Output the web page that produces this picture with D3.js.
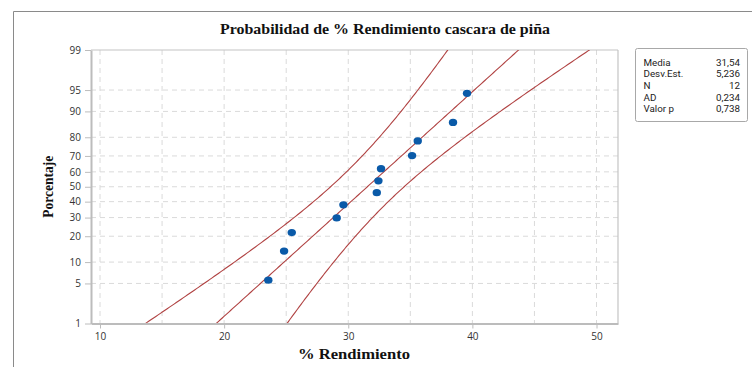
<!DOCTYPE html>
<html>
<head>
<meta charset="utf-8">
<script src="https://cdn.jsdelivr.net/npm/d3@7"></script>
<style>
  html, body { margin: 0; padding: 0; background: #fff; }
  svg { display: block; }
</style>
</head>
<body>
<svg id="chart" width="752" height="367"></svg>
<script>
// ---------- data ----------
const rendimiento = [23.56, 24.83, 25.45, 29.07, 29.61, 32.30, 32.43, 32.64, 35.14, 35.60, 38.44, 39.57];
const porcentaje  = [5.6, 13.7, 21.8, 29.8, 37.9, 46.0, 54.0, 62.1, 70.2, 78.2, 86.3, 94.4];
const yTickValues = [1, 5, 10, 20, 30, 40, 50, 60, 70, 80, 90, 95, 99];
const xTickValues = [10, 20, 30, 40, 50];
const xGridValues = [10, 15, 20, 25, 30, 35, 40, 45, 50];
const statLabels  = ["Media", "Desv.Est.", "N", "AD", "Valor p"];
const statValues  = ["31,54", "5,236", "12", "0,234", "0,738"];
const media = 31.54, desv = 5.236, nObs = 12, zConf = 1.96;
const titleText = "Probabilidad de % Rendimiento cascara de piña";
const xLabelText = "% Rendimiento";
const yLabelText = "Porcentaje";

// inverse normal CDF (Acklam)
function probit(p) {
  const a = [-3.969683028665376e+01, 2.209460984245205e+02, -2.759285104469687e+02, 1.383577518672690e+02, -3.066479806614716e+01, 2.506628277459239e+00];
  const b = [-5.447609879822406e+01, 1.615858368580409e+02, -1.556989798598866e+02, 6.680131188771972e+01, -1.328068155288572e+01];
  const c = [-7.784894002430293e-03, -3.223964580411365e-01, -2.400758277161838e+00, -2.549732539343734e+00, 4.374664141464968e+00, 2.938163982698783e+00];
  const d = [7.784695709041462e-03, 3.224671290700398e-01, 2.445134137142996e+00, 3.754408661907416e+00];
  const pl = 0.02425;
  let q, r;
  if (p < pl) {
    q = Math.sqrt(-2 * Math.log(p));
    return (((((c[0]*q+c[1])*q+c[2])*q+c[3])*q+c[4])*q+c[5]) / ((((d[0]*q+d[1])*q+d[2])*q+d[3])*q+1);
  } else if (p <= 1 - pl) {
    q = p - 0.5; r = q * q;
    return (((((a[0]*r+a[1])*r+a[2])*r+a[3])*r+a[4])*r+a[5])*q / (((((b[0]*r+b[1])*r+b[2])*r+b[3])*r+b[4])*r+1);
  } else {
    q = Math.sqrt(-2 * Math.log(1 - p));
    return -(((((c[0]*q+c[1])*q+c[2])*q+c[3])*q+c[4])*q+c[5]) / ((((d[0]*q+d[1])*q+d[2])*q+d[3])*q+1);
  }
}

// ---------- layout ----------
const svg = d3.select("#chart");
const L = 91, R = 618, T = 50, B = 323.5;
const pxPerUnit = 12.4125;
const x = d3.scaleLinear()
  .domain([10 - (100 - L) / pxPerUnit, 50 + (R - 596.5) / pxPerUnit])
  .range([L, R]);
const zMin = probit(0.01), zMax = probit(0.99);
const yz = d3.scaleLinear().domain([zMin, zMax]).range([B, T]);
const y = p => yz(probit(p / 100));

// outer frame (top + left only)
svg.append("line").attr("x1", 13.5).attr("x2", 752).attr("y1", 11.5).attr("y2", 11.5)
  .attr("stroke", "#8a8a8a").attr("stroke-width", 1);
svg.append("line").attr("x1", 13.5).attr("x2", 13.5).attr("y1", 11.5).attr("y2", 367)
  .attr("stroke", "#8a8a8a").attr("stroke-width", 1);

const serif = "'Liberation Serif', 'Times New Roman', serif";
const sans = "'Open Sans', 'Noto Sans', sans-serif";
const legendFont = "Roboto, 'Liberation Sans', sans-serif";

// title
svg.append("text").attr("x", 385).attr("y", 34)
  .attr("text-anchor", "middle")
  .attr("textLength", 330).attr("lengthAdjust", "spacingAndGlyphs")
  .style("font-family", serif)
  .style("font-weight", "bold").style("font-size", "14px").attr("fill", "#111")
  .text(titleText);

// grid
const grid = svg.append("g");
grid.selectAll("line.v").data(xGridValues).join("line")
  .attr("x1", d => x(d)).attr("x2", d => x(d)).attr("y1", T).attr("y2", B)
  .attr("stroke", "#dadada").attr("stroke-width", 1).attr("stroke-dasharray", "5,4");
grid.selectAll("line.h").data(yTickValues.filter(v => v > 1 && v < 99)).join("line")
  .attr("x1", L).attr("x2", R).attr("y1", d => y(d)).attr("y2", d => y(d))
  .attr("stroke", "#dadada").attr("stroke-width", 1).attr("stroke-dasharray", "5,4");

// plot border
svg.append("line").attr("x1", L).attr("x2", R).attr("y1", T).attr("y2", T).attr("stroke", "#c4c4c4").attr("stroke-width", 1.2);
svg.append("line").attr("x1", R).attr("x2", R).attr("y1", T).attr("y2", B).attr("stroke", "#c4c4c4").attr("stroke-width", 1.2);

// clip
svg.append("clipPath").attr("id", "clip").append("rect")
  .attr("x", L).attr("y", T).attr("width", R - L).attr("height", B - T);

// fitted line + confidence bands
const zs = d3.range(0, 201).map(i => zMin - 0.3 + (zMax - zMin + 0.6) * i / 200);
const half = z => zConf * desv * Math.sqrt((1 + z * z / 2) / nObs);
const fitLine = d3.line().x(d => x(d.v)).y(d => yz(d.z));
const curves = [
  zs.map(z => ({ z, v: media + z * desv })),
  zs.map(z => ({ z, v: media + z * desv - half(z) })),
  zs.map(z => ({ z, v: media + z * desv + half(z) }))
];
svg.append("g").attr("clip-path", "url(#clip)")
  .selectAll("path").data(curves).join("path")
  .attr("d", fitLine).attr("fill", "none")
  .attr("stroke", "#b04242").attr("stroke-width", 1.1);

// axes
const yAxis = svg.append("g").attr("transform", `translate(${L},0)`)
  .call(d3.axisLeft(yz).tickValues(yTickValues.map(p => probit(p / 100)))
    .tickFormat((d, i) => yTickValues[i]).tickSize(6).tickSizeOuter(0).tickPadding(4));
const xAxis = svg.append("g").attr("transform", `translate(0,${B})`)
  .call(d3.axisBottom(x).tickValues(xTickValues).tickSize(5).tickSizeOuter(0).tickPadding(4));
[yAxis, xAxis].forEach(g => {
  g.select(".domain").attr("stroke", "#bcbcbc").attr("stroke-width", 2);
  g.selectAll(".tick line").attr("stroke", "#bcbcbc");
  g.selectAll(".tick text").attr("fill", "#333")
    .style("font-family", sans).style("font-size", "10px");
});

// points
svg.append("g").selectAll("ellipse").data(rendimiento).join("ellipse")
  .attr("cx", d => x(d)).attr("cy", (d, i) => y(porcentaje[i]))
  .attr("rx", 4.2).attr("ry", 3.6).attr("fill", "#0a5aa8");

// axis labels
svg.append("text").attr("x", 354).attr("y", 359).attr("text-anchor", "middle")
  .attr("textLength", 112).attr("lengthAdjust", "spacingAndGlyphs")
  .style("font-family", serif)
  .style("font-weight", "bold").style("font-size", "14px").attr("fill", "#111")
  .text(xLabelText);
svg.append("text").attr("transform", `translate(53,${(T + B) / 2}) rotate(-90)`)
  .attr("text-anchor", "middle")
  .attr("textLength", 62).attr("lengthAdjust", "spacingAndGlyphs")
  .style("font-family", serif)
  .style("font-weight", "bold").style("font-size", "14px").attr("fill", "#111")
  .text(yLabelText);

// stats box
const box = svg.append("g");
box.append("rect").attr("x", 635.5).attr("y", 48.5).attr("width", 112).attr("height", 73)
  .attr("rx", 2).attr("fill", "#fff").attr("stroke", "#a8a8a8").attr("stroke-width", 1);
box.selectAll("text.l").data(statLabels).join("text")
  .attr("x", 643.5).attr("y", (d, i) => 65.8 + i * 11.6)
  .style("font-family", legendFont).style("font-size", "9.8px").attr("fill", "#222")
  .text(d => d);
box.selectAll("text.v").data(statValues).join("text")
  .attr("x", 740).attr("y", (d, i) => 65.8 + i * 11.6).attr("text-anchor", "end")
  .style("font-family", legendFont).style("font-size", "9.8px").attr("fill", "#222")
  .text(d => d);
</script>
</body>
</html>
